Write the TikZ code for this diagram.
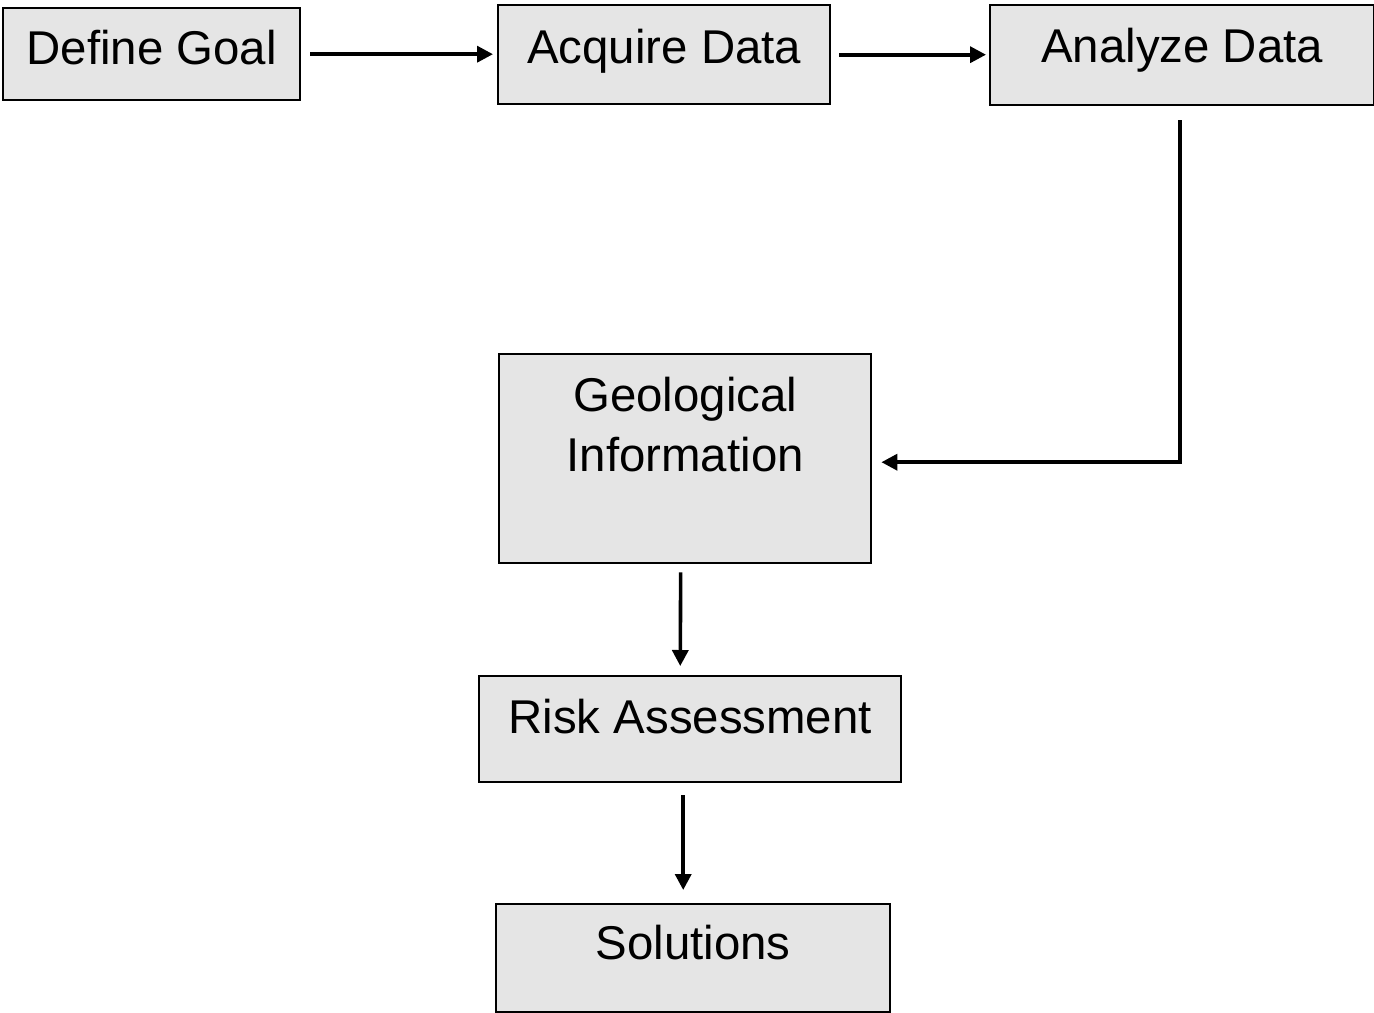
\documentclass[tikz,border=0pt]{standalone}
\usepackage{fontspec}
\setmainfont{Liberation Sans}
\usetikzlibrary{arrows.meta}

\begin{document}
\begin{tikzpicture}[x=.5pt,y=-.5pt,
    box/.style={draw,line width=1.2pt,fill=black!10,inner sep=0pt,align=center,anchor=north west,font=\fontsize{23.7}{30}\selectfont},
    arr/.style={line width=1.8pt,-{Triangle[length=8pt,width=8pt]}}]

\useasboundingbox (0,0) rectangle (1374,1012);

%top row
\node[box,minimum width=148.5pt,text height=28pt,text depth=18pt] at (2,7)(goal){Define Goal};
\node[box,minimum width=166pt,text height=29pt,text depth=20.5pt] at (497,4)(acquire){Acquire Data};
\node[box,minimum width=192pt,text height=28.5pt,text depth=21.5pt] at (989,4)(analyze){Analyze Data};

%column
\node[box,minimum width=186pt,text height=58.5pt,text depth=46pt] at (498,353)(geo){Geological\\Information};
\node[box,minimum width=211pt,text height=28.5pt,text depth=24.5pt] at (478,675)(risk){Risk Assessment};
\node[box,minimum width=197pt,text height=27.5pt,text depth=26.5pt] at (495,903)(sol){Solutions};

%arrows
\draw[arr,shorten <=4.5pt,shorten >=2pt] (goal.east) -- (goal.east -| acquire.west);
\draw[arr,shorten <=4pt,shorten >=1.5pt] (acquire.east) -- (acquire.east -| analyze.west);
\draw[arr,shorten <=7pt,shorten >=4.5pt] ([xshift=-1pt]analyze.south) |- ([yshift=-1.75pt]geo.east);
\draw[arr,shorten <=4pt,shorten >=4.5pt] ([xshift=-2.25pt]geo.south) -- ([xshift=-5pt]risk.north);
\draw[arr,shorten <=6pt,shorten >=6.5pt] ([xshift=-3.5pt]risk.south) -- ([xshift=-5pt]sol.north);

\end{tikzpicture}
\end{document}
